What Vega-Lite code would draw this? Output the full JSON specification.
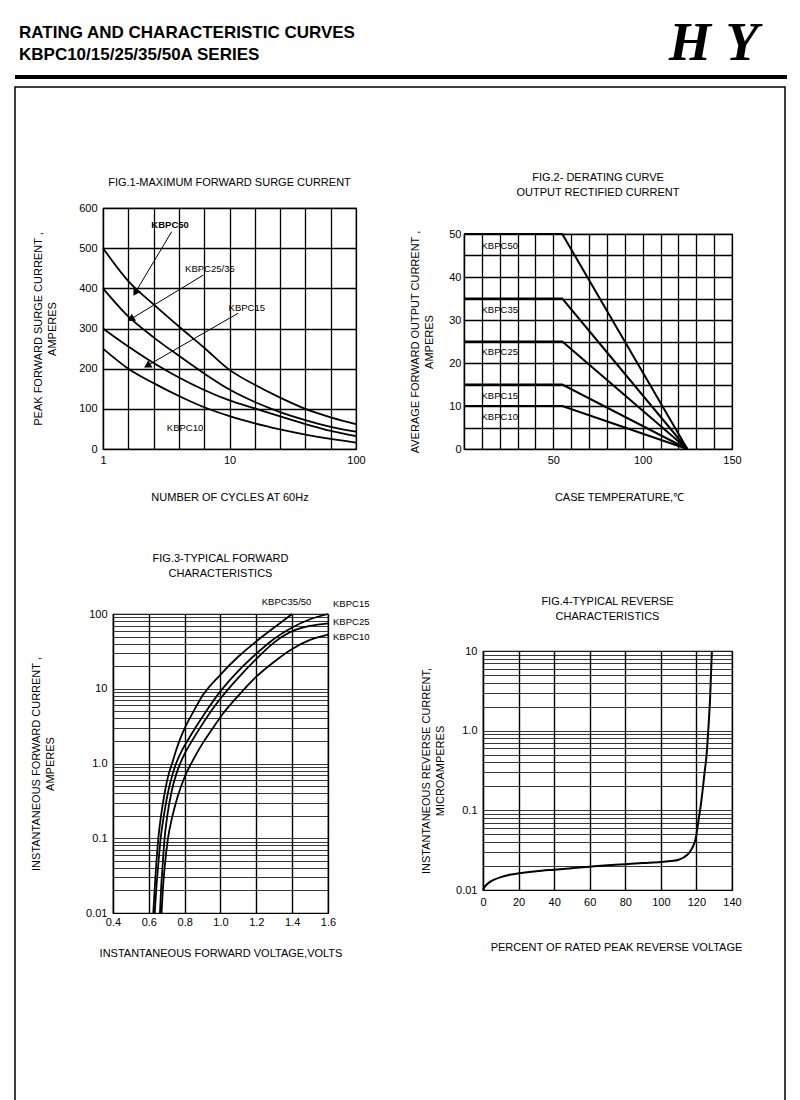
{
  "$schema": "https://vega.github.io/schema/vega-lite/v6.json",
  "padding": 0,
  "autosize": {"type": "pad"},
  "config": {
    "font": "Liberation Sans",
    "view": {"stroke": "black", "strokeWidth": 1.2},
    "axis": {"labelFont": "Liberation Sans", "titleFont": "Liberation Sans", "labelFontSize": 11, "titleFontSize": 11, "titleFontWeight": "normal", "labelColor": "black", "titleColor": "black", "grid": true, "gridColor": "black", "gridOpacity": 1, "gridWidth": 1.2, "domainColor": "black", "domainWidth": 1.2, "ticks": false, "labelFlush": false, "labelOverlap": false, "labelBound": false, "titleLineHeight": 14},
    "title": {"font": "Liberation Sans", "fontSize": 11, "fontWeight": "normal", "color": "black", "lineHeight": 15},
    "text": {"font": "Liberation Sans", "color": "black"}
  },
  "datasets": {
    "page_rect": [{"x": 0, "y": 0, "x2": 800, "y2": 1100}],
    "page_box": [{"x": 15, "y": 87, "x2": 785, "y2": 1120}],
    "page_rule": [{"x": 15, "x2": 787, "y": 77}],
    "page_head": [{"x": 19, "y": 33, "text": "RATING AND CHARACTERISTIC  CURVES"}, {"x": 19, "y": 55, "text": "KBPC10/15/25/35/50A SERIES"}],
    "page_logo": [{"x": 690, "y": 60, "text": "H"}, {"x": 742, "y": 60, "text": "Y"}],
    "fig1": [
      {"series": "KBPC50", "x": 1, "y": 500}, {"series": "KBPC50", "x": 1.585, "y": 418}, {"series": "KBPC50", "x": 2.512, "y": 360}, {"series": "KBPC50", "x": 3.981, "y": 305}, {"series": "KBPC50", "x": 6.31, "y": 252}, {"series": "KBPC50", "x": 10, "y": 197}, {"series": "KBPC50", "x": 15.85, "y": 160}, {"series": "KBPC50", "x": 25.12, "y": 128}, {"series": "KBPC50", "x": 39.81, "y": 100}, {"series": "KBPC50", "x": 63.1, "y": 79}, {"series": "KBPC50", "x": 100, "y": 62},
      {"series": "KBPC25/35", "x": 1, "y": 400}, {"series": "KBPC25/35", "x": 1.585, "y": 330}, {"series": "KBPC25/35", "x": 2.512, "y": 278}, {"series": "KBPC25/35", "x": 3.981, "y": 232}, {"series": "KBPC25/35", "x": 6.31, "y": 188}, {"series": "KBPC25/35", "x": 10, "y": 148}, {"series": "KBPC25/35", "x": 15.85, "y": 117}, {"series": "KBPC25/35", "x": 25.12, "y": 92}, {"series": "KBPC25/35", "x": 39.81, "y": 72}, {"series": "KBPC25/35", "x": 63.1, "y": 55}, {"series": "KBPC25/35", "x": 100, "y": 43},
      {"series": "KBPC15", "x": 1, "y": 300}, {"series": "KBPC15", "x": 1.585, "y": 255}, {"series": "KBPC15", "x": 2.512, "y": 214}, {"series": "KBPC15", "x": 3.981, "y": 178}, {"series": "KBPC15", "x": 6.31, "y": 147}, {"series": "KBPC15", "x": 10, "y": 121}, {"series": "KBPC15", "x": 15.85, "y": 101}, {"series": "KBPC15", "x": 25.12, "y": 81}, {"series": "KBPC15", "x": 39.81, "y": 62}, {"series": "KBPC15", "x": 63.1, "y": 45}, {"series": "KBPC15", "x": 100, "y": 32},
      {"series": "KBPC10", "x": 1, "y": 250}, {"series": "KBPC10", "x": 1.585, "y": 200}, {"series": "KBPC10", "x": 2.512, "y": 164}, {"series": "KBPC10", "x": 3.981, "y": 132}, {"series": "KBPC10", "x": 6.31, "y": 104}, {"series": "KBPC10", "x": 10, "y": 82}, {"series": "KBPC10", "x": 15.85, "y": 64}, {"series": "KBPC10", "x": 25.12, "y": 49}, {"series": "KBPC10", "x": 39.81, "y": 36}, {"series": "KBPC10", "x": 63.1, "y": 25}, {"series": "KBPC10", "x": 100, "y": 16}
    ],
    "fig1_arrows": [
      {"x": 1.82, "y": 392, "xs": 3.49, "ys": 541, "angle": 211},
      {"x": 1.69, "y": 325, "xs": 6.21, "ys": 433, "angle": 239},
      {"x": 2.28, "y": 209, "xs": 11.7, "ys": 338, "angle": 240}
    ],
    "fig1_labels": [{"x": 7.0, "y": 447, "text": "KBPC25/35"}, {"x": 13.7, "y": 350, "text": "KBPC15"}, {"x": 4.45, "y": 52, "text": "KBPC10"}],
    "fig1_label_bold": [{"x": 3.39, "y": 558, "text": "KBPC50"}],
    "fig2": [
      {"series": "KBPC50", "x": 0, "y": 50}, {"series": "KBPC50", "x": 55, "y": 50}, {"series": "KBPC50", "x": 125, "y": 0},
      {"series": "KBPC35", "x": 0, "y": 35}, {"series": "KBPC35", "x": 55, "y": 35}, {"series": "KBPC35", "x": 125, "y": 0},
      {"series": "KBPC25", "x": 0, "y": 25}, {"series": "KBPC25", "x": 55, "y": 25}, {"series": "KBPC25", "x": 125, "y": 0},
      {"series": "KBPC15", "x": 0, "y": 15}, {"series": "KBPC15", "x": 55, "y": 15}, {"series": "KBPC15", "x": 125, "y": 0},
      {"series": "KBPC10", "x": 0, "y": 10}, {"series": "KBPC10", "x": 55, "y": 10}, {"series": "KBPC10", "x": 125, "y": 0}
    ],
    "fig2_labels": [{"x": 20, "y": 47.1, "text": "KBPC50"}, {"x": 20, "y": 32.4, "text": "KBPC35"}, {"x": 20, "y": 22.5, "text": "KBPC25"}, {"x": 20, "y": 12.4, "text": "KBPC15"}, {"x": 20, "y": 7.4, "text": "KBPC10"}],
    "fig3": [
      {"series": "KBPC35/50", "x": 0.625, "y": 0.01}, {"series": "KBPC35/50", "x": 0.632, "y": 0.02}, {"series": "KBPC35/50", "x": 0.64, "y": 0.04}, {"series": "KBPC35/50", "x": 0.653, "y": 0.1}, {"series": "KBPC35/50", "x": 0.668, "y": 0.2}, {"series": "KBPC35/50", "x": 0.688, "y": 0.4}, {"series": "KBPC35/50", "x": 0.71, "y": 0.71}, {"series": "KBPC35/50", "x": 0.73, "y": 1.0}, {"series": "KBPC35/50", "x": 0.75, "y": 1.45}, {"series": "KBPC35/50", "x": 0.775, "y": 2.14}, {"series": "KBPC35/50", "x": 0.8, "y": 2.95}, {"series": "KBPC35/50", "x": 0.85, "y": 5.0}, {"series": "KBPC35/50", "x": 0.9, "y": 8.1}, {"series": "KBPC35/50", "x": 1.0, "y": 15.5}, {"series": "KBPC35/50", "x": 1.1, "y": 27}, {"series": "KBPC35/50", "x": 1.2, "y": 43}, {"series": "KBPC35/50", "x": 1.3, "y": 66}, {"series": "KBPC35/50", "x": 1.4, "y": 100},
      {"series": "KBPC15", "x": 0.633, "y": 0.01}, {"series": "KBPC15", "x": 0.641, "y": 0.02}, {"series": "KBPC15", "x": 0.651, "y": 0.04}, {"series": "KBPC15", "x": 0.666, "y": 0.1}, {"series": "KBPC15", "x": 0.684, "y": 0.2}, {"series": "KBPC15", "x": 0.706, "y": 0.4}, {"series": "KBPC15", "x": 0.732, "y": 0.71}, {"series": "KBPC15", "x": 0.752, "y": 1.0}, {"series": "KBPC15", "x": 0.79, "y": 1.58}, {"series": "KBPC15", "x": 0.82, "y": 2.09}, {"series": "KBPC15", "x": 0.86, "y": 3.0}, {"series": "KBPC15", "x": 0.92, "y": 5.0}, {"series": "KBPC15", "x": 1.0, "y": 9.3}, {"series": "KBPC15", "x": 1.1, "y": 17.4}, {"series": "KBPC15", "x": 1.2, "y": 29.5}, {"series": "KBPC15", "x": 1.3, "y": 46.8}, {"series": "KBPC15", "x": 1.4, "y": 66}, {"series": "KBPC15", "x": 1.5, "y": 85}, {"series": "KBPC15", "x": 1.6, "y": 100},
      {"series": "KBPC25", "x": 0.662, "y": 0.01}, {"series": "KBPC25", "x": 0.668, "y": 0.02}, {"series": "KBPC25", "x": 0.676, "y": 0.04}, {"series": "KBPC25", "x": 0.688, "y": 0.1}, {"series": "KBPC25", "x": 0.703, "y": 0.2}, {"series": "KBPC25", "x": 0.725, "y": 0.4}, {"series": "KBPC25", "x": 0.752, "y": 0.71}, {"series": "KBPC25", "x": 0.775, "y": 1.0}, {"series": "KBPC25", "x": 0.8, "y": 1.35}, {"series": "KBPC25", "x": 0.848, "y": 2.14}, {"series": "KBPC25", "x": 0.9, "y": 3.39}, {"series": "KBPC25", "x": 0.95, "y": 5.13}, {"series": "KBPC25", "x": 1.0, "y": 7.41}, {"series": "KBPC25", "x": 1.1, "y": 14.1}, {"series": "KBPC25", "x": 1.2, "y": 25.1}, {"series": "KBPC25", "x": 1.3, "y": 41.7}, {"series": "KBPC25", "x": 1.4, "y": 58.9}, {"series": "KBPC25", "x": 1.5, "y": 69.2}, {"series": "KBPC25", "x": 1.6, "y": 75},
      {"series": "KBPC10", "x": 0.671, "y": 0.01}, {"series": "KBPC10", "x": 0.678, "y": 0.02}, {"series": "KBPC10", "x": 0.688, "y": 0.04}, {"series": "KBPC10", "x": 0.707, "y": 0.1}, {"series": "KBPC10", "x": 0.73, "y": 0.19}, {"series": "KBPC10", "x": 0.76, "y": 0.355}, {"series": "KBPC10", "x": 0.8, "y": 0.66}, {"series": "KBPC10", "x": 0.85, "y": 1.15}, {"series": "KBPC10", "x": 0.9, "y": 1.86}, {"series": "KBPC10", "x": 0.95, "y": 2.8}, {"series": "KBPC10", "x": 1.0, "y": 4.2}, {"series": "KBPC10", "x": 1.1, "y": 8.1}, {"series": "KBPC10", "x": 1.2, "y": 14.5}, {"series": "KBPC10", "x": 1.3, "y": 23}, {"series": "KBPC10", "x": 1.4, "y": 34}, {"series": "KBPC10", "x": 1.5, "y": 45}, {"series": "KBPC10", "x": 1.6, "y": 53}
    ],
    "fig3_labels": [{"x": 1.23, "y": 146, "text": "KBPC35/50"}, {"x": 1.628, "y": 136, "text": "KBPC15"}, {"x": 1.628, "y": 78.9, "text": "KBPC25"}, {"x": 1.628, "y": 49.7, "text": "KBPC10"}],
    "fig4": [
      {"x": 0, "y": 0.01}, {"x": 1, "y": 0.011}, {"x": 3, "y": 0.0122}, {"x": 6, "y": 0.0134}, {"x": 10, "y": 0.0145}, {"x": 15, "y": 0.0155}, {"x": 20, "y": 0.0162}, {"x": 30, "y": 0.0172}, {"x": 40, "y": 0.018}, {"x": 50, "y": 0.0188}, {"x": 60, "y": 0.0196}, {"x": 70, "y": 0.0204}, {"x": 80, "y": 0.0211}, {"x": 90, "y": 0.0218}, {"x": 100, "y": 0.0225}, {"x": 106, "y": 0.0231}, {"x": 110, "y": 0.024}, {"x": 113, "y": 0.0258}, {"x": 116, "y": 0.0295}, {"x": 118, "y": 0.035}, {"x": 119.4, "y": 0.0426}, {"x": 120.3, "y": 0.055}, {"x": 121.2, "y": 0.076}, {"x": 122.3, "y": 0.11}, {"x": 123.5, "y": 0.18}, {"x": 124.6, "y": 0.3}, {"x": 125.6, "y": 0.47}, {"x": 126.9, "y": 1.24}, {"x": 127.7, "y": 2.6}, {"x": 128.2, "y": 5.2}, {"x": 128.7, "y": 10}
    ]
  },
  "columns": 4,
  "align": "each",
  "bounds": "flush",
  "spacing": 0,
  "concat": [
    {
      "width": 103,
      "height": 208,
      "view": {"stroke": null},
      "encoding": {
        "x": {"field": "x", "type": "quantitative", "scale": {"domain": [0, 103], "zero": false, "nice": false}, "axis": null},
        "y": {"field": "y", "type": "quantitative", "scale": {"domain": [0, 208], "reverse": true, "zero": false, "nice": false}, "axis": null}
      },
      "layer": [
        {"data": {"name": "page_rect"}, "mark": {"type": "rect", "fill": "white", "strokeWidth": 0}, "encoding": {"x2": {"field": "x2"}, "y2": {"field": "y2"}}},
        {"data": {"name": "page_box"}, "mark": {"type": "rect", "filled": false, "stroke": "black", "strokeWidth": 1.5}, "encoding": {"x2": {"field": "x2"}, "y2": {"field": "y2"}}},
        {"data": {"name": "page_rule"}, "mark": {"type": "rule", "color": "black", "strokeWidth": 4}, "encoding": {"x2": {"field": "x2"}}},
        {"data": {"name": "page_head"}, "mark": {"type": "text", "fontSize": 17, "fontWeight": "bold", "align": "left", "baseline": "middle", "color": "black"}, "encoding": {"text": {"field": "text"}}},
        {"data": {"name": "page_logo"}, "mark": {"type": "text", "font": "Liberation Serif", "fontSize": 54, "fontWeight": "bold", "fontStyle": "italic", "align": "center", "baseline": "alphabetic", "color": "black"}, "encoding": {"text": {"field": "text"}}}
      ]
    },
    {"width": 253, "height": 1, "view": {"stroke": null}, "data": {"values": []}, "mark": "point"},
    {"width": 108, "height": 1, "view": {"stroke": null}, "data": {"values": []}, "mark": "point"},
    {"width": 1, "height": 1, "view": {"stroke": null}, "data": {"values": []}, "mark": "point"},

    {"width": 1, "height": 1, "view": {"stroke": null}, "data": {"values": []}, "mark": "point"},
    {
      "width": 253,
      "height": 241,
      "title": {"text": "FIG.1-MAXIMUM  FORWARD SURGE CURRENT", "offset": 14},
      "encoding": {
        "x": {"field": "x", "type": "quantitative", "scale": {"type": "log", "domain": [1, 100], "nice": false},
          "axis": {"title": "NUMBER OF CYCLES AT 60Hz", "values": [1, 1.585, 2.512, 3.981, 6.31, 10, 15.85, 25.12, 39.81, 63.1, 100], "labelExpr": "datum.value == 1 ? '1' : datum.value == 10 ? '10' : datum.value == 100 ? '100' : ''", "labelPadding": 5, "titlePadding": 26, "gridWidth": 1.3}},
        "y": {"field": "y", "type": "quantitative", "scale": {"domain": [0, 600], "nice": false},
          "axis": {"title": ["PEAK  FORWARD  SURGE CURRENT ,", "AMPERES"], "values": [0, 100, 200, 300, 400, 500, 600], "labelPadding": 6, "titlePadding": 21, "gridWidth": 1.3}}
      },
      "layer": [
        {"data": {"name": "fig1"}, "mark": {"type": "line", "interpolate": "monotone", "color": "black", "strokeWidth": 1.8}, "encoding": {"detail": {"field": "series"}}},
        {"data": {"name": "fig1_arrows"}, "mark": {"type": "rule", "color": "black", "strokeWidth": 1}, "encoding": {"x2": {"field": "xs"}, "y2": {"field": "ys"}}},
        {"data": {"name": "fig1_arrows"}, "mark": {"type": "point", "shape": "triangle", "filled": true, "color": "black", "size": 70, "opacity": 1}, "encoding": {"angle": {"field": "angle", "type": "quantitative", "scale": null}}},
        {"data": {"name": "fig1_labels"}, "mark": {"type": "text", "fontSize": 9.5, "color": "black"}, "encoding": {"text": {"field": "text"}}},
        {"data": {"name": "fig1_label_bold"}, "mark": {"type": "text", "fontSize": 9.5, "fontWeight": "bold", "color": "black"}, "encoding": {"text": {"field": "text"}}}
      ]
    },
    {"width": 1, "height": 1, "view": {"stroke": null}, "data": {"values": []}, "mark": "point"},
    {
      "vconcat": [
        {"width": 1, "height": 26, "view": {"stroke": null}, "data": {"values": []}, "mark": "point"},
        {
          "width": 268,
          "height": 215,
          "title": {"text": ["FIG.2- DERATING CURVE", "OUTPUT RECTIFIED CURRENT"], "offset": 27},
          "encoding": {
            "x": {"field": "x", "type": "quantitative", "scale": {"domain": [0, 150], "nice": false},
              "axis": {"title": "CASE TEMPERATURE,℃", "values": [0, 10, 20, 30, 40, 50, 60, 70, 80, 90, 100, 110, 120, 130, 140, 150], "labelExpr": "datum.value == 50 || datum.value == 100 || datum.value == 150 ? datum.label : ''", "labelPadding": 5, "titlePadding": 26, "titleX": 155, "gridWidth": 1.3}},
            "y": {"field": "y", "type": "quantitative", "scale": {"domain": [0, 50], "nice": false},
              "axis": {"title": ["AVERAGE  FORWARD  OUTPUT  CURRENT ,", "AMPERES"], "values": [0, 5, 10, 15, 20, 25, 30, 35, 40, 45, 50], "labelExpr": "datum.value % 10 == 0 ? datum.label : ''", "labelPadding": 3, "titlePadding": 14, "gridWidth": 1.3}}
          },
          "layer": [
            {"data": {"name": "fig2"}, "mark": {"type": "line", "color": "black", "strokeWidth": 2}, "encoding": {"detail": {"field": "series"}}},
            {"data": {"name": "fig2_labels"}, "mark": {"type": "text", "fontSize": 9.5, "color": "black"}, "encoding": {"text": {"field": "text"}}}
          ]
        }
      ],
      "align": "each",
      "bounds": "flush",
      "spacing": 0
    },

    {"width": 1, "height": 1, "view": {"stroke": null}, "data": {"values": []}, "mark": "point"},
    {
      "columns": 2,
      "align": "each",
      "bounds": "flush",
      "spacing": 0,
      "concat": [
        {"width": 10, "height": 165, "view": {"stroke": null}, "data": {"values": []}, "mark": "point"},
        {"width": 1, "height": 1, "view": {"stroke": null}, "data": {"values": []}, "mark": "point"},
        {"width": 1, "height": 1, "view": {"stroke": null}, "data": {"values": []}, "mark": "point"},
        {
          "width": 215,
          "height": 299,
          "title": {"text": ["FIG.3-TYPICAL FORWARD", "CHARACTERISTICS"], "offset": 18},
          "encoding": {
            "x": {"field": "x", "type": "quantitative", "scale": {"domain": [0.4, 1.6], "nice": false, "zero": false},
              "axis": {"title": "INSTANTANEOUS FORWARD VOLTAGE,VOLTS", "values": [0.4, 0.6, 0.8, 1.0, 1.2, 1.4, 1.6], "format": ".1f", "labelPadding": 3, "titlePadding": 20, "gridWidth": 1.4}},
            "y": {"field": "y", "type": "quantitative", "scale": {"type": "log", "domain": [0.01, 100], "nice": false},
              "axis": {"title": ["INSTANTANEOUS  FORWARD  CURRENT ,", "AMPERES"], "values": [0.01, 0.02, 0.03, 0.04, 0.05, 0.06, 0.07, 0.08, 0.09, 0.1, 0.2, 0.3, 0.4, 0.5, 0.6, 0.7, 0.8, 0.9, 1, 2, 3, 4, 5, 6, 7, 8, 9, 10, 20, 30, 40, 50, 60, 70, 80, 90, 100], "labelExpr": "datum.value == 0.01 ? '0.01' : datum.value == 0.1 ? '0.1' : datum.value == 1 ? '1.0' : datum.value == 10 ? '10' : datum.value == 100 ? '100' : ''", "labelPadding": 6, "titlePadding": 30, "gridWidth": 0.9, "gridColor": "#222222"}}
          },
          "layer": [
            {"data": {"name": "fig3"}, "mark": {"type": "line", "interpolate": "monotone", "color": "black", "strokeWidth": 1.8}, "encoding": {"detail": {"field": "series"}}},
            {"data": {"name": "fig3_labels"}, "mark": {"type": "text", "fontSize": 9.5, "align": "left", "color": "black"}, "encoding": {"text": {"field": "text"}}}
          ]
        }
      ]
    },
    {"width": 1, "height": 1, "view": {"stroke": null}, "data": {"values": []}, "mark": "point"},
    {
      "columns": 2,
      "align": "each",
      "bounds": "flush",
      "spacing": 0,
      "concat": [
        {"width": 19, "height": 202, "view": {"stroke": null}, "data": {"values": []}, "mark": "point"},
        {"width": 1, "height": 1, "view": {"stroke": null}, "data": {"values": []}, "mark": "point"},
        {"width": 1, "height": 1, "view": {"stroke": null}, "data": {"values": []}, "mark": "point"},
        {
          "width": 249,
          "height": 239,
          "title": {"text": ["FIG.4-TYPICAL REVERSE", "CHARACTERISTICS"], "offset": 23},
          "encoding": {
            "x": {"field": "x", "type": "quantitative", "scale": {"domain": [0, 140], "nice": false},
              "axis": {"title": "PERCENT OF RATED PEAK REVERSE VOLTAGE", "values": [0, 20, 40, 60, 80, 100, 120, 140], "labelPadding": 6, "titlePadding": 34, "titleX": 133, "gridWidth": 1.4}},
            "y": {"field": "y", "type": "quantitative", "scale": {"type": "log", "domain": [0.01, 10], "nice": false},
              "axis": {"title": ["INSTANTANEOUS  REVERSE  CURRENT,", "MICROAMPERES"], "values": [0.01, 0.02, 0.03, 0.04, 0.05, 0.06, 0.07, 0.08, 0.09, 0.1, 0.2, 0.3, 0.4, 0.5, 0.6, 0.7, 0.8, 0.9, 1, 2, 3, 4, 5, 6, 7, 8, 9, 10], "labelExpr": "datum.value == 0.01 ? '0.01' : datum.value == 0.1 ? '0.1' : datum.value == 1 ? '1.0' : datum.value == 10 ? '10' : ''", "labelPadding": 6, "titlePadding": 10, "gridWidth": 0.9, "gridColor": "#222222"}}
          },
          "layer": [
            {"data": {"name": "fig4"}, "mark": {"type": "line", "interpolate": "monotone", "color": "black", "strokeWidth": 2}}
          ]
        }
      ]
    }
  ]
}
